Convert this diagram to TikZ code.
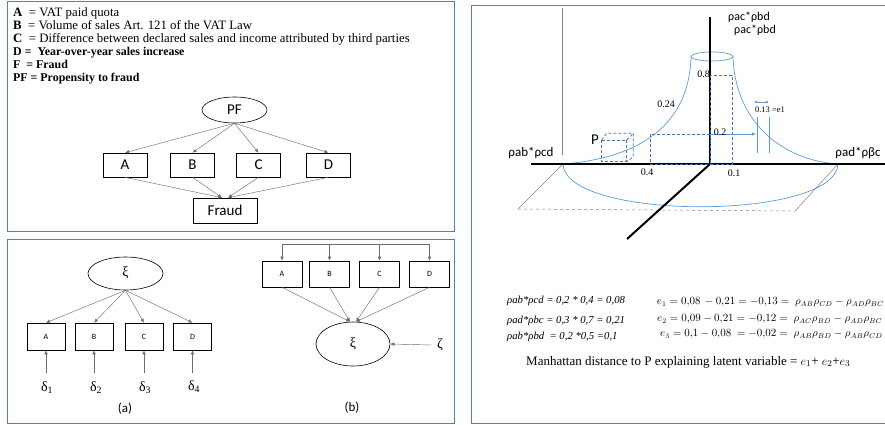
\documentclass[tikz,border=0pt]{standalone}
\usepackage{fontspec}
\setmainfont{Liberation Serif}
\newfontfamily\carl{Carlito}
\usetikzlibrary{arrows.meta,shapes.geometric,calc}
\definecolor{framecol}{RGB}{79,129,189}
\definecolor{curvecol}{RGB}{91,155,213}
\definecolor{dashcol}{RGB}{70,115,175}
\definecolor{linegray}{RGB}{110,110,110}
\tikzset{
  frame/.style={draw=framecol, line width=1pt},
  txt/.style={anchor=base west, inner sep=0, font=\fontsize{12.8}{13}\selectfont},
  txtb/.style={anchor=base west, inner sep=0, font=\bfseries\fontsize{11.9}{13}\selectfont},
  ell/.style={ellipse, draw, line width=0.6pt, inner sep=0},
  pbox/.style={draw, line width=0.6pt, inner sep=0, minimum width=44, minimum height=24, font=\carl\fontsize{15}{15}\selectfont},
  sbox/.style={draw, line width=0.6pt, inner sep=0, font=\carl\fontsize{8}{8}\selectfont},
  arr/.style={draw=linegray, line width=0.45pt, -{Latex[length=4pt,width=3.5pt]}},
  curve/.style={draw=curvecol, line width=0.7pt},
  dsh/.style={draw=dashcol, line width=0.8pt, dash pattern=on 3pt off 2pt},
  axis/.style={draw=black, line width=2pt},
  rholab/.style={inner sep=0, font=\carl\fontsize{12}{12}\selectfont},
  num/.style={inner sep=0, font=\fontsize{10}{10}\selectfont},
  eqi/.style={anchor=west, inner sep=0, font=\itshape\fontsize{10.7}{12}\selectfont},
  eqm/.style={anchor=west, inner sep=0, font=\fontsize{10.5}{12}\selectfont},
  greek/.style={inner sep=0, font=\fontsize{14}{14}\selectfont},
  panelcap/.style={inner sep=0, font=\carl\fontsize{13}{13}\selectfont},
}
\begin{document}
\begin{tikzpicture}[x=1pt,y=-1pt]
\useasboundingbox (0,0) rectangle (885,424);
% frames
\draw[frame] (7,1.5) rectangle (454,231);
\draw[frame] (7,239) rectangle (454,423);
\draw[frame] (471,5) rectangle (895,423);

% legend text
\node[txt] (t1) at (13,16.5) {\textbf{A}\ \ = VAT paid quota};
\node[txt] (t2) at (13,29.5) {\textbf{B}\ \ = Volume of sales Art. 121 of the VAT Law};
\node[txt] (t3) at (13,42.5) {\textbf{C}\ \ = Difference between declared sales and income attributed by third parties};
\node[txtb] (t4) at (13,55.5) {D =\ \ Year-over-year sales increase};
\node[txtb] (t5) at (13,68.5) {F\ \ = Fraud};
\node[txtb] (t6) at (13,81.5) {PF = Propensity to fraud};

% PF diagram
\node[ell, minimum width=65, minimum height=26, font=\carl\fontsize{15}{15}\selectfont] (PF) at (234.5,110) {PF};
\node[pbox] (A) at (125,165) {A};
\node[pbox] (B) at (192.5,165) {B};
\node[pbox] (C) at (258.5,165) {C};
\node[pbox] (D) at (328.5,165) {D};
\node[pbox, minimum width=64, minimum height=25] (Fr) at (225,210.5) {Fraud};
\foreach \n in {A,B,C,D} \draw[arr] (PF.south) -- (\n.north);
\draw[arr] (A.south) -- ([xshift=-3pt]Fr.north);
\draw[arr] (B.south) -- ([xshift=-3pt]Fr.north);
\draw[arr] (C.south) -- ([xshift=3pt]Fr.north);
\draw[arr] (D.south) -- ([xshift=3pt]Fr.north);

% panel (a)
\node[ell, minimum width=75, minimum height=33, greek] (xa) at (125.5,273.5) {\raisebox{3pt}{ξ}};
\node[sbox, minimum width=38, minimum height=27] (aA) at (46,336.5) {A};
\node[sbox, minimum width=38, minimum height=27] (aB) at (94,336.5) {B};
\node[sbox, minimum width=38, minimum height=27] (aC) at (144,336.5) {C};
\node[sbox, minimum width=38, minimum height=27] (aD) at (192.5,336.5) {D};
\foreach \n in {aA,aB,aC,aD} \draw[arr] (xa.south) -- (\n.north);
\node[greek] (d1) at (47,388) {δ\textsubscript{1}};
\node[greek] (d2) at (96,388) {δ\textsubscript{2}};
\node[greek] (d3) at (145,388) {δ\textsubscript{3}};
\node[greek] (d4) at (194,387) {δ\textsubscript{4}};
\coordinate (s1) at (46,373);
\coordinate (s2) at (94,373);
\coordinate (s3) at (144,373);
\coordinate (s4) at (192.5,373);
\draw[arr] (s1) -- (aA.south);
\draw[arr] (s2) -- (aB.south);
\draw[arr] (s3) -- (aC.south);
\draw[arr] (s4) -- (aD.south);
\node[panelcap] (capa) at (125,409) {(a)};

% panel (b)
\node[sbox, minimum width=40, minimum height=26] (bA) at (282,274) {A};
\node[sbox, minimum width=40, minimum height=26] (bB) at (329.5,274) {B};
\node[sbox, minimum width=40, minimum height=26] (bC) at (379.5,274) {C};
\node[sbox, minimum width=40, minimum height=26] (bD) at (429.5,274) {D};
\coordinate (bar) at (0,244);
\draw[draw=linegray, line width=0.8pt] (bA.north |- bar) -- (bD.north |- bar);
\foreach \n in {bA,bB,bC,bD} \draw[arr] (\n.north |- bar) -- (\n.north);
\node[ell, minimum width=74, minimum height=44, greek] (xb) at (353,344) {ξ};
\draw[arr] (bA.south) -- ([xshift=-3pt]xb.north);
\draw[arr] (bB.south) -- ([xshift=-3pt]xb.north);
\draw[arr] (bC.south) -- ([xshift=3pt]xb.north);
\draw[arr] (bD.south) -- ([xshift=3pt]xb.north);
\node[greek, inner xsep=2pt] (zeta) at (440,345) {ζ};
\draw[arr] ([xshift=-3pt]zeta.west) -- (xb.east);
\node[panelcap] (capb) at (352,408) {(b)};

% right panel: 3D sketch
\draw[draw=gray, line width=0.5pt] (562,8) -- (562,155);
\draw[draw=gray, line width=0.5pt] (563,164) -- (518,209);
\draw[draw=gray, line width=0.5pt, dashed] (518,209) -- (795,211);
\draw[draw=gray, line width=0.5pt] (795,211) -- (838,164);
\draw[curve] (563,164) .. controls (565,221) and (836,221) .. (838,164);
\draw[curve] (691,57) .. controls (689,125) and (640,158) .. (563,164);
\draw[curve] (733,57) .. controls (735,120) and (780,160) .. (838,164);
\draw[curve] (712,56.5) ellipse [x radius=21, y radius=4.5];

\draw[axis] (531,164) -- (890,164);
\draw[axis] (710,17) -- (710,164);
\draw[axis] (710,164) -- (627,239);

\draw[dsh] (710,75) rectangle (732,164);
\draw[dsh] (650,134) rectangle (710,164);
% cube P
\draw[dsh] (601.7,140) rectangle (626.7,161.7);
\draw[dsh] (601.7,140) -- (606.7,133.3) -- (633.3,133.3) -- (633.3,156.7) -- (626.7,161.7);
\draw[dsh] (626.7,140) -- (633.3,133.3);

\draw[draw=curvecol, line width=0.6pt, -{Latex[length=4pt,width=3.5pt]}] (710,134) -- (756,134);
\draw[draw=curvecol, line width=1pt] (757,117) -- (757,153);
\draw[draw=curvecol, line width=1pt] (769,117) -- (769,153);
\draw[draw=curvecol, line width=0.8pt, {Latex[length=3pt,width=3pt]}-{Latex[length=3pt,width=3pt]}] (754,102) -- (769,102);

\node[rholab] (r1) at (749,17) {ρac*ρbd};
\node[rholab] (r2) at (755,30) {ρac*ρbd};
\node[rholab, font=\carl\fontsize{13}{13}\selectfont] (r3) at (531,153) {ρab*ρcd};
\node[rholab, font=\carl\fontsize{13}{13}\selectfont] (r4) at (858,153) {ρad*ρβc};
\node[inner sep=0, font=\carl\fontsize{15}{15}\selectfont] (P) at (595,140) {P};
\node[num, anchor=east] (n08) at (710,74) {0.8};
\node[num] (n024) at (666,104) {0.24};
\node[num] (n02) at (720,132) {0.2};
\node[num] (n04) at (647,172) {0.4};
\node[num] (n01) at (734,173) {0.1};
\node[num, font=\fontsize{8.5}{8.5}\selectfont] (n013) at (770,110) {0.13 =e1};

% equations
\node[eqi] (q1) at (507,301) {ρab*ρcd = 0,2 * 0,4 = 0,08};
\node[eqi] (q2) at (507,321) {ρad*ρbc = 0,3 * 0,7 = 0,21};
\node[eqi] (q3) at (507,337) {ρab*ρbd\ \ = 0,2 *0,5 =0,1};
\node[eqm] (m1) at (656.7,302) {$e_1 = 0{,}08\,-0{,}21 = -0{,}13 =\ \rho_{AB}\rho_{CD} - \rho_{AD}\rho_{BC}$};
\node[eqm] (m2) at (657,319) {$e_2 = 0{,}09 - 0{,}21 = -0{,}12 =\ \rho_{AC}\rho_{BD} - \rho_{AD}\rho_{BC}$};
\node[eqm] (m3) at (660,334) {$e_3 = 0{,}1 - 0{,}08\ = -0{,}02 =\ \rho_{AB}\rho_{BD} - \rho_{AB}\rho_{CD}$};
\node[anchor=west, inner sep=0, font=\fontsize{13}{14}\selectfont] (man) at (526,362) {Manhattan distance to P explaining latent variable = $e_1$+ $e_2$+$e_3$};
\end{tikzpicture}
\end{document}
